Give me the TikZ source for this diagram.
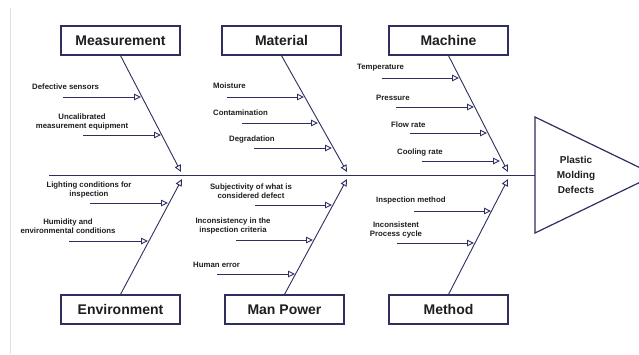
\documentclass[tikz,border=0pt]{standalone}
\usepackage{fontspec}
\setmainfont{Liberation Sans}
\usetikzlibrary{arrows.meta}
\definecolor{navy}{HTML}{2E2F5E}
\definecolor{txt}{HTML}{1E1E1E}
\begin{document}
\begin{tikzpicture}[x=1pt,y=-1pt,
  cat/.style={draw=navy, line width=1.2pt, minimum width=119pt, minimum height=29pt, inner sep=0pt,
    font=\fontsize{14}{16}\selectfont\bfseries, text=txt},
  lbl/.style={font=\fontsize{7.8}{9}\selectfont\bfseries, text=txt, inner sep=0pt, align=center},
  bone/.style={draw=navy, line width=0.9pt, -{Triangle[open,length=7pt,width=6.5pt,fill=white]}},
  subarrow/.style={bone}]
\useasboundingbox (0,0) rectangle (639,354);
\fill[white] (0,0) rectangle (639,354);
\draw[black!12, line width=0.6pt] (10,8) -- (10,354);

% head
\coordinate (ht) at (535,117);
\coordinate (hp) at (655,175);
\coordinate (hb) at (535,233);
\coordinate (head) at (535,175);
\coordinate (tail) at (49,175);
\draw[navy, line width=1.2pt] (ht) -- (hp) -- (hb) -- cycle;
\node[font=\fontsize{10}{15}\selectfont\bfseries, text=txt, align=center] (effect) at (576,175) {Plastic\\Molding\\Defects};
\draw[navy, line width=1pt] (tail) -- (head);

% category boxes
\node[cat] (meas) at (120.5,40.5) {Measurement};
\node[cat] (mat)  at (281.5,40.5) {Material};
\node[cat] (mach) at (448.5,40.5) {Machine};
\node[cat] (env)  at (120.5,309.5) {Environment};
\node[cat] (man)  at (284.5,309.5) {Man Power};
\node[cat] (meth) at (448.5,309.5) {Method};

% bone tips
\coordinate (measT) at (181,172);
\coordinate (matT)  at (347,172);
\coordinate (machT) at (508,172);
\coordinate (envT)  at (182,179);
\coordinate (manT)  at (347,179);
\coordinate (methT) at (508,179);
\draw[bone] (meas.south) -- (measT);
\draw[bone] (mat.south) -- (matT);
\draw[bone] (mach.south) -- (machT);
\draw[bone] (env.north) -- (envT);
\draw[bone] (man.north) -- (manT);
\draw[bone] (meth.north) -- (methT);

% Measurement causes
\node[lbl, anchor=west] (l1) at (32,87) {Defective sensors};
\coordinate (a1) at (63,97); \coordinate (b1) at (141,97);
\draw[subarrow] (a1) -- (b1);
\node[lbl] (l2) at (82,121.5) {Uncalibrated\\measurement equipment};
\coordinate (a2) at (83,135); \coordinate (b2) at (161,135);
\draw[subarrow] (a2) -- (b2);

% Material causes
\node[lbl, anchor=west] (l3) at (213,86) {Moisture};
\coordinate (a3) at (227,97); \coordinate (b3) at (304,97);
\draw[subarrow] (a3) -- (b3);
\node[lbl, anchor=west] (l4) at (213,113) {Contamination};
\coordinate (a4) at (242,123); \coordinate (b4) at (318,123);
\draw[subarrow] (a4) -- (b4);
\node[lbl, anchor=west] (l5) at (229,139) {Degradation};
\coordinate (a5) at (254,148); \coordinate (b5) at (332,148);
\draw[subarrow] (a5) -- (b5);

% Machine causes
\node[lbl, anchor=west] (l6) at (357,68) {Temperature};
\coordinate (a6) at (382,78); \coordinate (b6) at (459,78);
\draw[subarrow] (a6) -- (b6);
\node[lbl, anchor=west] (l7) at (376,98) {Pressure};
\coordinate (a7) at (396,107); \coordinate (b7) at (474,107);
\draw[subarrow] (a7) -- (b7);
\node[lbl, anchor=west] (l8) at (391,125) {Flow rate};
\coordinate (a8) at (410,133); \coordinate (b8) at (487,133);
\draw[subarrow] (a8) -- (b8);
\node[lbl, anchor=west] (l9) at (397,152) {Cooling rate};
\coordinate (a9) at (422,161); \coordinate (b9) at (500,161);
\draw[subarrow] (a9) -- (b9);

% Environment causes
\node[lbl] (l10) at (89,189.5) {Lighting conditions for\\inspection};
\coordinate (a10) at (90,203); \coordinate (b10) at (168,203);
\draw[subarrow] (a10) -- (b10);
\node[lbl] (l11) at (68,226.5) {Humidity and\\environmental conditions};
\coordinate (a11) at (69,241); \coordinate (b11) at (148,241);
\draw[subarrow] (a11) -- (b11);

% Man Power causes
\node[lbl] (l12) at (251,191.5) {Subjectivity of what is\\considered defect};
\coordinate (a12) at (255,205); \coordinate (b12) at (332,205);
\draw[subarrow] (a12) -- (b12);
\node[lbl] (l13) at (233,225.5) {Inconsistency in the\\inspection criteria};
\coordinate (a13) at (236,240); \coordinate (b13) at (313,240);
\draw[subarrow] (a13) -- (b13);
\node[lbl, anchor=west] (l14) at (193,265) {Human error};
\coordinate (a14) at (217,274); \coordinate (b14) at (295,274);
\draw[subarrow] (a14) -- (b14);

% Method causes
\node[lbl, anchor=west] (l15) at (376,200) {Inspection method};
\coordinate (a15) at (414,211); \coordinate (b15) at (491,211);
\draw[subarrow] (a15) -- (b15);
\node[lbl] (l16) at (396,229.5) {Inconsistent\\Process cycle};
\coordinate (a16) at (397,243); \coordinate (b16) at (474,243);
\draw[subarrow] (a16) -- (b16);
\end{tikzpicture}
\end{document}
